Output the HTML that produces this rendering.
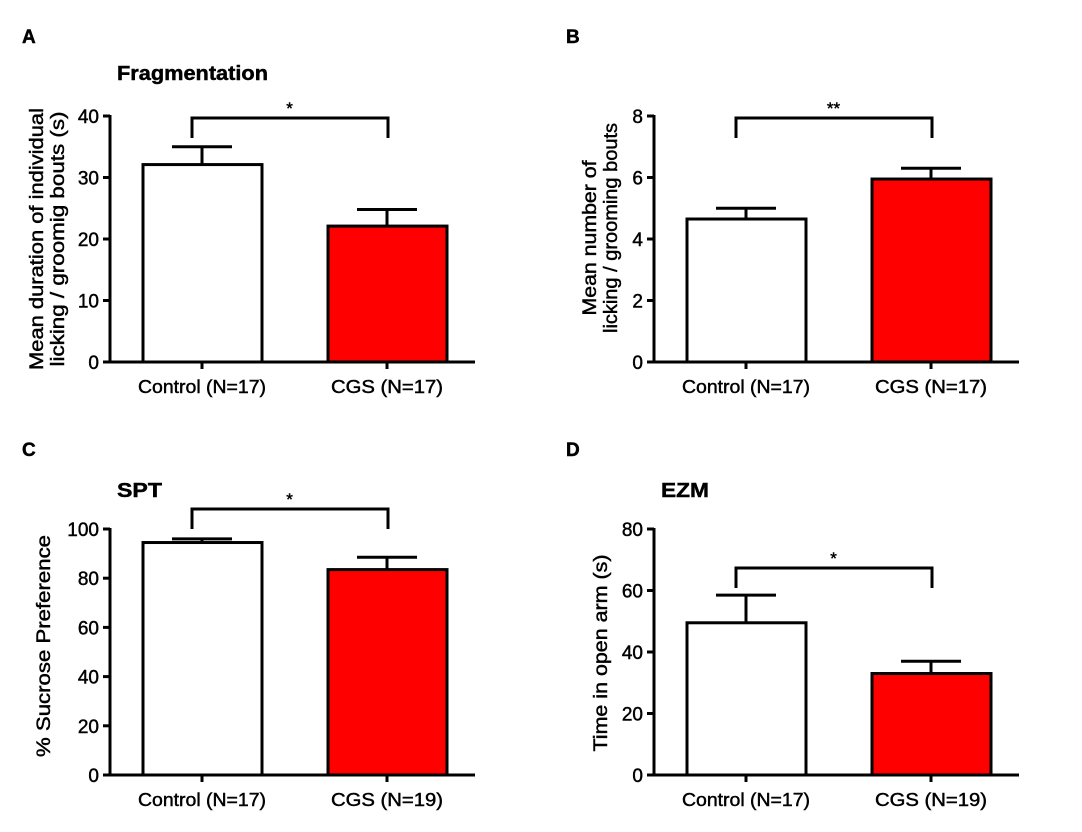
<!DOCTYPE html>
<html><head><meta charset="utf-8"><style>
body{margin:0;background:#fff;}
svg text{font-family:"Liberation Sans",Arial,sans-serif;fill:#000;stroke:#000;stroke-width:0.45px;}
</style></head><body>
<svg id="s" width="1082" height="827" viewBox="0 0 1082 827" xmlns="http://www.w3.org/2000/svg"></svg>
<script>
const NS="http://www.w3.org/2000/svg";
const svg=document.getElementById('s');
const categoriesA=["Control (N=17)","CGS (N=17)"];
const meansA=[32.1,22.1];
const errA=[35,24.8];
const ticksA=[0,10,20,30,40];
const categoriesB=["Control (N=17)","CGS (N=17)"];
const meansB=[4.65,5.95];
const errB=[5.0,6.3];
const ticksB=[0,2,4,6,8];
const categoriesC=["Control (N=17)","CGS (N=19)"];
const meansC=[94.5,83.5];
const errC=[96,88.5];
const ticksC=[0,20,40,60,80,100];
const categoriesD=["Control (N=17)","CGS (N=19)"];
const meansD=[49.5,33];
const errD=[58.5,37];
const ticksD=[0,20,40,60,80];
const sigA="*",sigB="**",sigC="*",sigD="*";

function el(tag,attrs,parent,text){
  const e=document.createElementNS(NS,tag);
  for(const k in attrs)e.setAttribute(k,attrs[k]);
  if(text!==undefined)e.textContent=text;
  (parent||svg).appendChild(e);return e;
}
function panel(cfg){
  const g=el('g',{});
  
  
  const ox=cfg.ox, y0=cfg.y0, ytop=y0-246, max=cfg.ticks[cfg.ticks.length-1];
  const Y=v=>y0-(v/max)*(y0-ytop);
  const xc=[ox+92,ox+277];
  const lt=el('text',{x:ox-88,y:cfg.letterY,'font-size':19,'font-weight':'bold'},g,cfg.letter);
  
  
  if(cfg.title){const t=el('text',{x:ox+7,y:cfg.titleY,'font-size':20,'font-weight':'bold',textLength:cfg.titleLen,lengthAdjust:'spacingAndGlyphs'},g,cfg.title);
    
    }
  for(let i=0;i<2;i++){
    const top=Y(cfg.means[i]);
    const e=Y(cfg.err[i]);
    const ln=el('line',{x1:xc[i],x2:xc[i],y1:top,y2:e,stroke:'#000','stroke-width':3},g);
    
    
    const cap=el('line',{x1:xc[i]-30,x2:xc[i]+30,y1:e,y2:e,stroke:'#000','stroke-width':3},g);
    
    
    const r=el('rect',{x:xc[i]-59,y:top,width:119,height:y0-top,fill:i?'#ff0000':'#fff',stroke:'#000','stroke-width':3},g);
    
    
    const tk=el('line',{x1:xc[i],x2:xc[i],y1:y0,y2:y0+7,stroke:'#000','stroke-width':3},g);
    
    
    const lb=el('text',{x:xc[i],y:y0+31,'font-size':18,'text-anchor':'middle',textLength:i?112:128,lengthAdjust:'spacingAndGlyphs'},g,cfg.cats[i]);
    
    
  }
  const ya=el('line',{x1:ox,x2:ox,y1:ytop-1,y2:y0+1.5,stroke:'#000','stroke-width':3},g);
  
  
  const xa=el('line',{x1:ox-1.5,x2:ox+365,y1:y0,y2:y0,stroke:'#000','stroke-width':3},g);
  
  
  cfg.ticks.forEach(t=>{
    const y=Y(t);
    const tk=el('line',{x1:ox-7,x2:ox,y1:y,y2:y,stroke:'#000','stroke-width':3},g);
    
    
    const tl=el('text',{x:ox-11,y:y+7,'font-size':19,'text-anchor':'end'},g,String(t));
    
    
  });
  const yt=el('text',{transform:`translate(${cfg.ytX},${cfg.ytC}) rotate(-90)`,'font-size':19,'text-anchor':'middle'},g);
  
  
  cfg.ytitle.forEach((s,i)=>{el('tspan',{x:cfg.ytOff?cfg.ytOff[i]:0,dy:i?21:(cfg.ytitle.length>1?-11:0),textLength:cfg.ytLen[i],lengthAdjust:'spacingAndGlyphs'},yt,s);});
  const by=cfg.brY;
  const br=el('path',{d:`M${xc[0]-10},${by+20} V${by} H${xc[1]+1} V${by+20}`,fill:'none',stroke:'#000','stroke-width':3},g);
  
  
  const st=el('text',{x:(xc[0]-10+xc[1])/2,y:by-4,'font-size':17,'text-anchor':'middle'},g,cfg.sig);
  
  
}
panel({letter:'A',letterY:43,title:'Fragmentation',titleLen:151,titleY:80,ox:110,y0:362,ticks:ticksA,means:meansA,err:errA,cats:categoriesA,ytX:54,ytC:239,ytitle:['Mean duration of individual','licking / groomig bouts (s)'],ytLen:[262,255],brY:118,sig:sigA});
panel({letter:'B',letterY:43,title:null,ox:654,y0:362,ticks:ticksB,means:meansB,err:errB,cats:categoriesB,ytX:607,ytC:239,ytitle:['Mean number of','licking / grooming bouts'],ytLen:[155,210],ytOff:[1,11],brY:118,sig:sigB});
panel({letter:'C',letterY:456,title:'SPT',titleLen:45,titleY:497,ox:110,y0:775,ticks:ticksC,means:meansC,err:errC,cats:categoriesC,ytX:50,ytC:646,ytitle:['% Sucrose Preference'],ytLen:[222],brY:509,sig:sigC});
panel({letter:'D',letterY:456,title:'EZM',titleLen:48,titleY:497,ox:654,y0:775,ticks:ticksD,means:meansD,err:errD,cats:categoriesD,ytX:607,ytC:653,ytitle:['Time in open arm (s)'],ytLen:[197],brY:568,sig:sigD});
</script>
</body></html>
